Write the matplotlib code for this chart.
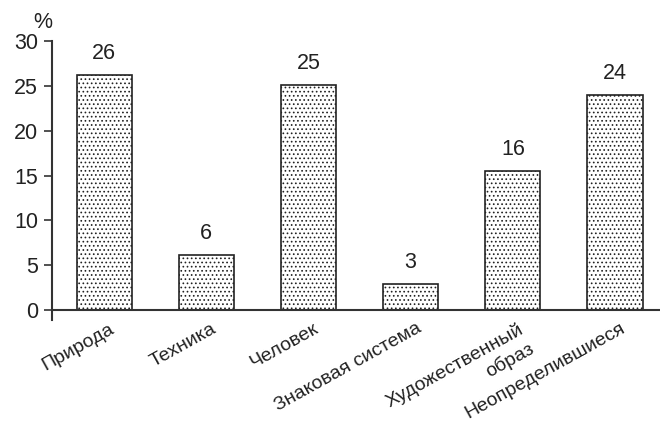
import matplotlib.pyplot as plt
import matplotlib.transforms as mtransforms
import numpy as np

plt.rcParams['font.family'] = ['Liberation Sans', 'DejaVu Sans']
plt.rcParams['hatch.linewidth'] = 0.7

categories = ["Природа", "Техника", "Человек", "Знаковая система",
              "Художественный", "Неопределившиеся"]
second_lines = ["", "", "", "", "образ", ""]
values = [26.2, 6.1, 25.1, 2.9, 15.5, 24.0]
labels = ["26", "6", "25", "3", "16", "24"]
yticks = [0, 5, 10, 15, 20, 25, 30]


def main():
    fig = plt.figure(figsize=(6.63, 4.24), dpi=100)
    ax = fig.add_axes([52 / 663, 104 / 424, 608 / 663, 279 / 424])

    x = np.arange(len(categories))
    ax.bar(x, values, width=0.54, color="white", edgecolor="#222222",
           linewidth=1.2, hatch="....", zorder=2)

    # value labels above each bar
    for xi, v, t in zip(x, values, labels):
        ax.annotate(t, (xi, v), xytext=(0, 8), textcoords="offset points",
                    ha="center", va="bottom", fontsize=15.5, color="#222222")

    ax.axhline(0, color="#333333", linewidth=1.5, zorder=3)
    ax.set_xlim(-0.51, 5.44)
    ax.set_ylim(-1.1, 30)

    for s in ["top", "right", "bottom"]:
        ax.spines[s].set_visible(False)
    ax.spines["left"].set_color("#333333")
    ax.spines["left"].set_linewidth(1.5)
    ax.spines["left"].set_bounds(-1.1, 30)

    ax.set_yticks(yticks)
    ax.tick_params(axis="y", direction="out", length=6, width=1.2,
                   colors="#333333", labelsize=15.5, labelcolor="#222222", pad=4)
    ax.set_xticks(x)
    rot = 29
    ax.set_xticklabels(categories, rotation=rot, ha="right",
                       rotation_mode="anchor", fontsize=14, color="#222222")
    ax.tick_params(axis="x", length=0, pad=0)

    # nudge the rotated labels a little to the right, as in the original
    shift = mtransforms.ScaledTranslation(0.05, 0.0, fig.dpi_scale_trans)
    for lbl in ax.get_xticklabels():
        lbl.set_transform(lbl.get_transform() + shift)

    # second line of a label, right-aligned under the first one
    lh = 14 * 1.15
    dx = 3.6 + lh * np.sin(np.radians(rot))
    dy = -lh * np.cos(np.radians(rot))
    for xi, extra in zip(x, second_lines):
        if extra:
            ax.annotate(extra, (xi, 0), xycoords=("data", "axes fraction"),
                        xytext=(dx, dy), textcoords="offset points",
                        rotation=rot, rotation_mode="anchor", ha="right",
                        va="top", fontsize=14, color="#222222",
                        annotation_clip=False)

    ax.text(-0.016, 1.03, "%", transform=ax.transAxes, fontsize=15.5,
            ha="center", va="bottom", color="#222222")

    fig.savefig("out.png", dpi=100)


if __name__ == "__main__":
    main()
